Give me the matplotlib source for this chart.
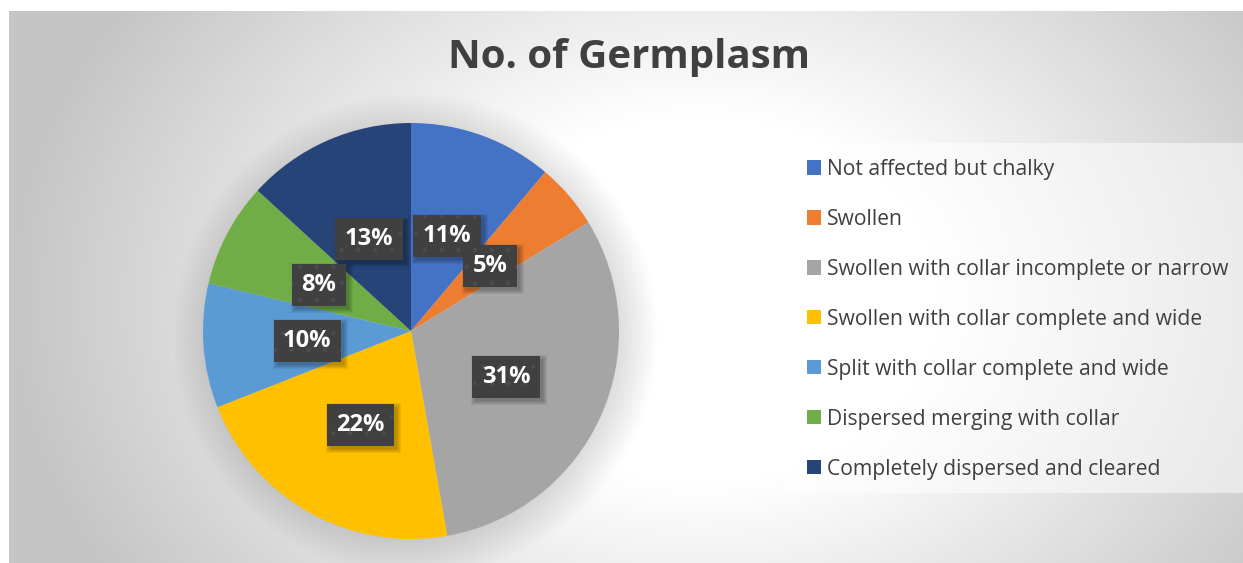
import numpy as np
import matplotlib
matplotlib.use("Agg")
import matplotlib.pyplot as plt
from matplotlib.patches import Rectangle
from matplotlib.transforms import IdentityTransform

plt.rcParams["hatch.linewidth"] = 0.6

# ---- data ----
categories = [
    "Not affected but chalky",
    "Swollen",
    "Swollen with collar incomplete or narrow",
    "Swollen with collar complete and wide",
    "Split with collar complete and wide",
    "Dispersed merging with collar",
    "Completely dispersed and cleared",
]
counts = [22, 10, 61, 43, 19, 16, 26]
colors = ["#4472C4", "#ED7D31", "#A5A5A5", "#FFC000", "#5B9BD5", "#70AD47", "#264478"]
title = "No. of Germplasm"

W, H = 1243, 563
fig = plt.figure(figsize=(W / 100, H / 100), dpi=100)
fig.patch.set_facecolor("white")

def fx(px):
    return px / W

def fy(py):
    return 1 - py / H

# pie geometry (pixels, y down)
pcx, pcy, pr = 411, 331, 208

# ---- background gradient (chart area) + soft pie shadow ----
x0, y0, x1, y1 = 9, 11, 1243, 563
bg = fig.add_axes([fx(x0), fy(y1), fx(x1 - x0), (y1 - y0) / H], zorder=0)
gx = np.arange(x0, x1) + 0.5
gy = np.arange(y0, y1) + 0.5
XX, YY = np.meshgrid(gx, gy)
u = (XX - 700) / 600
v = (YY - 300) / 276 * 0.6
r = np.sqrt(u ** 2 + v ** 2)
val = 255 - 58 * np.clip((r - 0.4) / 0.75, 0, 1)
d = np.sqrt((XX - pcx - 4) ** 2 + (YY - pcy - 4) ** 2)
shadow = 0.15 * np.clip((pr + 35 - d) / 45, 0, 1)
val = val * (1 - shadow)
img = np.dstack([val, val, val]) / 255.0
bg.imshow(img, extent=[0, 1, 0, 1], origin="upper", aspect="auto", interpolation="nearest")
bg.set_xlim(0, 1)
bg.set_ylim(0, 1)
bg.axis("off")

# ---- pie ----
ax = fig.add_axes([fx(pcx - pr), fy(pcy + pr), 2 * pr / W, 2 * pr / H], zorder=2)
ax.patch.set_alpha(0)
wedges, texts, autotexts = ax.pie(
    counts, colors=colors, startangle=90, counterclock=False,
    autopct="%1.0f%%", pctdistance=0.5,
    textprops=dict(color="white", fontsize=17, fontweight="bold", family="Open Sans"),
    wedgeprops=dict(linewidth=0),
)
ax.set_xlim(-1, 1)
ax.set_ylim(-1, 1)
ax.set_autoscale_on(False)

# ---- title ----
fig.text(fx(629), fy(68), title, ha="center", va="baseline", fontsize=29,
         fontweight="bold", color="#404040", family="Open Sans")

# ---- legend ----
fig.patches.append(Rectangle((fx(786), fy(493)), fx(1243 - 786), (493 - 143) / H,
                             transform=fig.transFigure, facecolor="white", alpha=0.5,
                             edgecolor="none", zorder=1))
leg = fig.legend(wedges, categories, loc="upper left",
                 bbox_to_anchor=(fx(807), fy(159)), frameon=False,
                 prop=dict(family="Open Sans", size=15.2), labelcolor="#404040",
                 handlelength=0.66, handleheight=0.66, handletextpad=0.28,
                 labelspacing=1.37, borderaxespad=0, borderpad=0)
leg.set_zorder(3)

# ---- data label boxes sized from rendered text ----
for t in autotexts:
    px, py = t.get_position()
    t.set_position((px, py - 3 / pr))
fig.canvas.draw()
renderer = fig.canvas.get_renderer()
for t in autotexts:
    bb = t.get_window_extent(renderer)
    cx = (bb.x0 + bb.x1) / 2
    cy = ax.transData.transform(t.get_position())[1]
    bw = bb.width + 19
    bh = 42
    for e in range(5):
        ax.add_patch(Rectangle((cx - bw / 2 + 3 - e, cy - bh / 2 - 3 - e), bw + 2 * e, bh + 2 * e,
                               transform=IdentityTransform(), facecolor="black",
                               alpha=0.06, edgecolor="none", zorder=3, clip_on=False))
    ax.add_patch(Rectangle((cx - bw / 2, cy - bh / 2), bw, bh, transform=IdentityTransform(),
                           facecolor="#404040", edgecolor="#4c4c4c", linewidth=0,
                           hatch=".", zorder=4, clip_on=False))
    t.set_zorder(5)

fig.savefig("out.png", dpi=100)
